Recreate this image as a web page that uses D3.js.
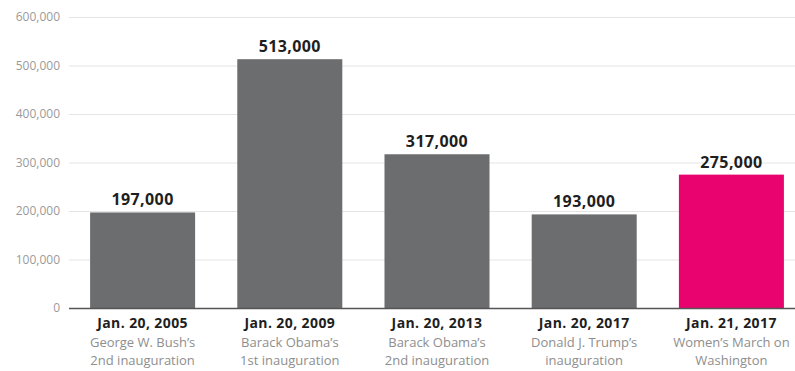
<!DOCTYPE html>
<html>
<head>
<meta charset="utf-8">
<script src="https://cdn.jsdelivr.net/npm/d3@7"></script>
<style>
  html, body { margin: 0; padding: 0; background: #fff; }
  svg { display: block; }
</style>
</head>
<body>
<svg id="chart" width="795" height="371"></svg>
<script>
// Crowd size estimates
const dates = ["Jan. 20, 2005", "Jan. 20, 2009", "Jan. 20, 2013", "Jan. 20, 2017", "Jan. 21, 2017"];
const eventLine1 = ["George W. Bush\u2019s", "Barack Obama\u2019s", "Barack Obama\u2019s", "Donald J. Trump\u2019s", "Women\u2019s March on"];
const eventLine2 = ["2nd inauguration", "1st inauguration", "2nd inauguration", "inauguration", "Washington"];
const crowd = [197000, 513000, 317000, 193000, 275000];
const highlighted = [false, false, false, false, true];
const yTicks = [0, 100000, 200000, 300000, 400000, 500000, 600000];

const W = 795, H = 371;
const plotLeft = 69, plotBottom = 308, plotTop = 17;
const font = "'Open Sans', sans-serif";

const svg = d3.select("#chart");

const x = d3.scaleBand()
  .domain(dates)
  .range([plotLeft, plotLeft + 5 * 147.2])
  .paddingInner(0.2866)
  .paddingOuter(0.1433);

const y = d3.scaleLinear().domain([0, 600000]).range([plotBottom, plotTop]);

// Horizontal gridlines and tick labels
const yAxis = d3.axisLeft(y)
  .tickValues(yTicks)
  .tickSize(-(W - plotLeft))
  .tickPadding(9)
  .tickFormat(d3.format(","));

const gy = svg.append("g")
  .attr("transform", `translate(${plotLeft},0)`)
  .call(yAxis);
gy.select(".domain").remove();
gy.selectAll(".tick line").attr("stroke", "#e4e4e4").attr("stroke-width", 1);
gy.selectAll(".tick text")
  .attr("fill", "#9a9a9a")
  .attr("font-family", font)
  .attr("font-size", 12);

// Bars
svg.append("g").selectAll("rect")
  .data(dates)
  .join("rect")
  .attr("x", d => x(d))
  .attr("width", x.bandwidth())
  .attr("y", (d, i) => y(crowd[i]))
  .attr("height", (d, i) => y(0) - y(crowd[i]))
  .attr("fill", (d, i) => highlighted[i] ? "#e8036f" : "#6c6d6f");

// Baseline
svg.append("line")
  .attr("x1", plotLeft).attr("x2", W)
  .attr("y1", y(0) + 0.5).attr("y2", y(0) + 0.5)
  .attr("stroke", "#555").attr("stroke-width", 1.5);

// Value labels
svg.append("g").selectAll("text")
  .data(dates)
  .join("text")
  .attr("x", d => x(d) + x.bandwidth() / 2)
  .attr("y", (d, i) => y(crowd[i]) - 7)
  .attr("text-anchor", "middle")
  .attr("font-family", font)
  .attr("font-weight", "bold")
  .attr("font-size", 16)
  .attr("letter-spacing", 0.4)
  .attr("fill", "#1e1e1e")
  .text((d, i) => d3.format(",")(crowd[i]));

// Category labels
const cat = svg.append("g").selectAll("g")
  .data(dates)
  .join("g")
  .attr("transform", d => `translate(${x(d) + x.bandwidth() / 2},0)`);

cat.append("text")
  .attr("y", 328)
  .attr("text-anchor", "middle")
  .attr("font-family", font)
  .attr("font-weight", "bold")
  .attr("font-size", 14)
  .attr("letter-spacing", 0.4)
  .attr("fill", "#1e1e1e")
  .text(d => d);

cat.append("text")
  .attr("y", 347)
  .attr("text-anchor", "middle")
  .attr("font-family", font)
  .attr("font-size", 13)
  .attr("fill", "#8e8e8e")
  .text((d, i) => eventLine1[i]);

cat.append("text")
  .attr("y", 365)
  .attr("text-anchor", "middle")
  .attr("font-family", font)
  .attr("font-size", 13)
  .attr("fill", "#8e8e8e")
  .text((d, i) => eventLine2[i]);
</script>
</body>
</html>
